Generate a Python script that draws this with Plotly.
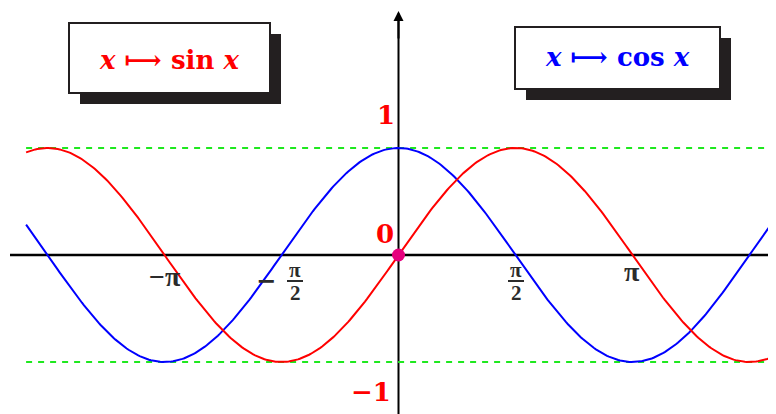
import numpy as np
import plotly.graph_objects as go

# Data
x_start, x_end = -5.0, 5.0
n_points = 401
bound_levels = [1, -1]
y_labels = ["1", "0", "−1"]
y_label_vals = [1.31, 0.2, -1.28]
sin_label = "<b><i>x</i> ⟼ sin <i>x</i></b>"
cos_label = "<b><i>x</i> ⟼ cos <i>x</i></b>"

xs = np.linspace(x_start, x_end, n_points)
sin_y = np.sin(xs)
cos_y = np.cos(xs)

W, H = 776, 414
OFF = 8  # page body margin
X0, SX = 398.5, 74.48
Y0, SY = 255.0, 107.0

def dx(px):
    return (px - X0) / SX

def dy(py):
    return (Y0 - py) / SY

xr = [dx(OFF), dx(OFF + W)]
yr = [dy(OFF + H), dy(OFF)]

fig = go.Figure()

for lv in bound_levels:
    fig.add_trace(go.Scatter(x=[x_start, xr[1]], y=[lv, lv], mode="lines",
                             line=dict(color="#1fe81f", width=2, dash="6px,6px"),
                             hoverinfo="skip", showlegend=False))

fig.add_trace(go.Scatter(x=xs, y=cos_y, mode="lines", line=dict(color="#0000ff", width=2),
                         showlegend=False))
fig.add_trace(go.Scatter(x=xs, y=sin_y, mode="lines", line=dict(color="#ff0000", width=2),
                         showlegend=False))
fig.add_trace(go.Scatter(x=[0], y=[0], mode="markers",
                         marker=dict(color="#e6007e", size=13), showlegend=False))

shapes = []
shapes.append(dict(type="line", x0=dx(10), x1=xr[1], y0=0, y1=0,
                   line=dict(color="black", width=2.5), layer="below"))
shapes.append(dict(type="line", x0=0, x1=0, y0=yr[0], y1=dy(14),
                   line=dict(color="black", width=2), layer="below"))

def box(l, t, r, b, off):
    shapes.append(dict(type="rect", x0=dx(l + off), x1=dx(r + off), y0=dy(t + off), y1=dy(b + off),
                       fillcolor="#231f20", line=dict(width=0), layer="above"))
    shapes.append(dict(type="rect", x0=dx(l), x1=dx(r), y0=dy(t), y1=dy(b),
                       fillcolor="white", line=dict(color="#231f20", width=2), layer="above"))

box(69, 23, 270, 93, 11)
box(515, 27, 720, 89, 11)

tick_color = "#2b2b2b"
shapes.append(dict(type="line", x0=dx(287), x1=dx(303), y0=dy(281), y1=dy(281),
                   line=dict(color=tick_color, width=2)))
shapes.append(dict(type="line", x0=dx(508), x1=dx(524), y0=dy(281), y1=dy(281),
                   line=dict(color=tick_color, width=2)))

annotations = []
serif = "DejaVu Serif"
annotations.append(dict(x=dx(169), y=dy(60), text=sin_label, showarrow=False,
                        font=dict(family=serif, size=26, color="#ff0000")))
annotations.append(dict(x=dx(617), y=dy(57), text=cos_label, showarrow=False,
                        font=dict(family=serif, size=26, color="#0000ff")))

for txt, v, px in zip(y_labels, y_label_vals, [386, 385, 371]):
    annotations.append(dict(x=dx(px), y=v, text="<b>%s</b>" % txt, showarrow=False,
                            font=dict(family=serif, size=26, color="#ff0000")))

pif = "Liberation Serif"
tf = dict(family=pif, size=28, color=tick_color)
tfs = dict(family=pif, size=21, color=tick_color)
mf = dict(family="DejaVu Sans", size=24, color=tick_color)
annotations.append(dict(x=-np.pi, y=dy(276), text="<b>−π</b>", showarrow=False, font=tf))
annotations.append(dict(x=np.pi, y=dy(271), text="<b>π</b>", showarrow=False, font=tf))
annotations.append(dict(x=dx(266), y=dy(281), text="<b>−</b>", showarrow=False, font=mf))
for cx in [295, 516]:
    annotations.append(dict(x=dx(cx), y=dy(270), text="<b>π</b>", showarrow=False, font=tfs))
    annotations.append(dict(x=dx(cx), y=dy(293), text="<b>2</b>", showarrow=False, font=tfs))

annotations.append(dict(x=0, y=dy(11), ax=0, ay=dy(40), xref="x", yref="y", axref="x", ayref="y",
                        text="", showarrow=True, arrowhead=2, arrowsize=1, arrowwidth=2,
                        arrowcolor="black"))

fig.update_layout(
    width=W, height=H, margin=dict(l=0, r=0, t=0, b=0),
    paper_bgcolor="white", plot_bgcolor="white",
    xaxis=dict(range=xr, visible=False, fixedrange=True),
    yaxis=dict(range=yr, visible=False, fixedrange=True),
    shapes=shapes, annotations=annotations, showlegend=False,
)
fig.write_html("out.html")
